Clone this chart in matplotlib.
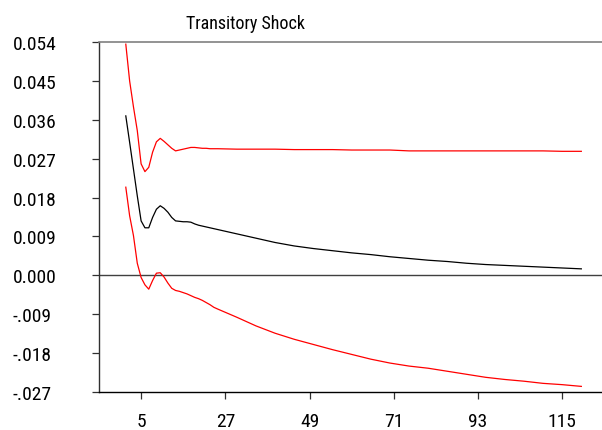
import matplotlib
matplotlib.use("Agg")
import matplotlib.pyplot as plt

plt.rcParams["font.family"] = ["Roboto Condensed", "Liberation Sans", "DejaVu Sans"]

periods = list(range(1, 26)) + list(range(30, 121, 5))

response = [0.0369, 0.0308, 0.0246, 0.0184, 0.0126, 0.0110, 0.0110, 0.0134, 0.0153, 0.0161,
            0.0155, 0.0146, 0.0134, 0.0126, 0.0125, 0.0124, 0.0124, 0.0123, 0.0119, 0.0116,
            0.0114, 0.0112, 0.0110, 0.0108, 0.0106,
            0.0096, 0.0086, 0.0076, 0.0068, 0.0062, 0.0057, 0.0052, 0.0048, 0.0043, 0.0039,
            0.0035, 0.0032, 0.0028, 0.0025, 0.0023, 0.0021, 0.0019, 0.0017, 0.0015]

upper = [0.0535, 0.0450, 0.0390, 0.0335, 0.0258, 0.0240, 0.0250, 0.0285, 0.0309, 0.0317,
         0.0310, 0.0302, 0.0294, 0.0288, 0.0290, 0.0292, 0.0294, 0.0296, 0.0296, 0.0295,
         0.0294, 0.0294, 0.0293, 0.0293, 0.0293,
         0.0292, 0.0292, 0.0292, 0.0291, 0.0291, 0.0291, 0.0290, 0.0290, 0.0290, 0.0288,
         0.0288, 0.0288, 0.0288, 0.0288, 0.0288, 0.0288, 0.0288, 0.0287, 0.0287]

lower = [0.0204, 0.0138, 0.0092, 0.0028, -0.0005, -0.0022, -0.0032, -0.0012, 0.0005, 0.0006,
         -0.0004, -0.0018, -0.0030, -0.0035, -0.0037, -0.0040, -0.0043, -0.0047, -0.0051, -0.0054,
         -0.0058, -0.0063, -0.0068, -0.0074, -0.0078,
         -0.0097, -0.0117, -0.0134, -0.0148, -0.0160, -0.0172, -0.0183, -0.0194, -0.0203, -0.0210,
         -0.0215, -0.0222, -0.0229, -0.0236, -0.0241, -0.0245, -0.0250, -0.0253, -0.0257]

xticks = [5, 27, 49, 71, 93, 115]
yticks = [0.054, 0.045, 0.036, 0.027, 0.018, 0.009, 0.000, -0.009, -0.018, -0.027]
ytick_labels = ["0.054", "0.045", "0.036", "0.027", "0.018", "0.009", "0.000", "-.009", "-.018", "-.027"]
title = "Transitory Shock"

fig = plt.figure(figsize=(6.02, 4.31), dpi=100)
ax = fig.add_axes([99 / 602, 1 - 393 / 431, 1 - 99 / 602, (393 - 43) / 431])

ax.axhline(0.0, color="#404040", lw=1.0, zorder=1)
ax.plot(periods, upper, color="#ff0000", lw=0.9, zorder=3)
ax.plot(periods, lower, color="#ff0000", lw=0.9, zorder=3)
ax.plot(periods, response, color="black", lw=0.9, zorder=3)

ax.set_xlim(-6.0, 125.4)
ax.set_ylim(-0.027, 0.054)
ax.set_xticks(xticks)
ax.set_xticklabels([str(t) for t in xticks])
ax.set_yticks(yticks)
ax.set_yticklabels(ytick_labels)

ax.spines["right"].set_visible(False)
ax.spines["top"].set_color("#808080")
ax.spines["top"].set_linewidth(1.2)
ax.spines["left"].set_color("#303030")
ax.spines["bottom"].set_color("black")
for s in ["left", "bottom"]:
    ax.spines[s].set_linewidth(1.0)

ax.tick_params(axis="y", direction="out", length=5.2, width=0.9, labelsize=14, pad=57,
               colors="#303030", labelcolor="black")
ax.tick_params(axis="x", direction="out", length=5.2, width=0.9, labelsize=14, pad=9,
               colors="#303030", labelcolor="black")
for lab in ax.get_yticklabels():
    lab.set_horizontalalignment("left")

fig.text(245.3 / 602, 1 - 29.3 / 431, title, ha="center", va="baseline", fontsize=13)

fig.savefig("out.png", dpi=100)
